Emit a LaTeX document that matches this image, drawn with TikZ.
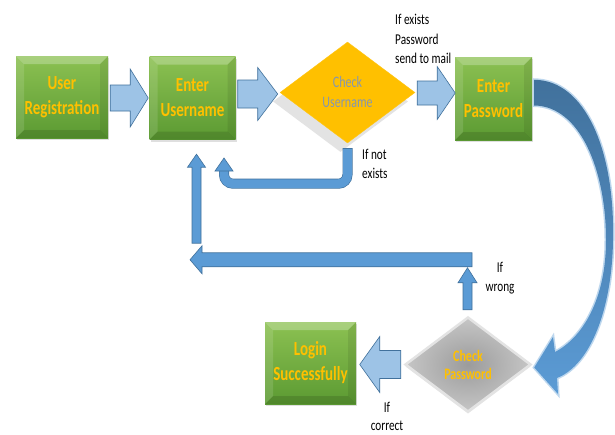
\documentclass[tikz,border=0pt]{standalone}
\usepackage{fontspec}
\setmainfont{Carlito}[FakeStretch=0.75]
\usepackage{xcolor}
\usepackage{tikz}
\usetikzlibrary{shapes.geometric, positioning, calc, shadows}
\definecolor{boxtop}{HTML}{8CC152}
\definecolor{boxbot}{HTML}{5B9A32}
\definecolor{boxtext}{HTML}{FFC000}
\definecolor{lightarrow}{HTML}{9DC3E6}
\definecolor{darkarrow}{HTML}{5B9BD5}
\definecolor{arrowline}{HTML}{41719C}
\definecolor{checkorange}{HTML}{FFC000}
\definecolor{checktext}{HTML}{8497B0}
\definecolor{glowblue}{HTML}{BDD7EE}

\begin{document}
\begin{tikzpicture}[x=1pt, y=-1pt,
	stepbox/.style={rectangle, top color=boxtop, bottom color=boxbot, text=boxtext, align=center,
		font=\fontsize{20}{25}\selectfont\bfseries, inner sep=0pt,
		drop shadow={shadow xshift=1pt, shadow yshift=-2pt, opacity=.25},
		path picture={
			\fill[white, opacity=.25] (path picture bounding box.north west) -- (path picture bounding box.north east) -- ([xshift=-8pt, yshift=-8pt]path picture bounding box.north east) -- ([xshift=8pt, yshift=-8pt]path picture bounding box.north west) -- cycle;
			\fill[white, opacity=.12] (path picture bounding box.north west) -- (path picture bounding box.south west) -- ([xshift=8pt, yshift=8pt]path picture bounding box.south west) -- ([xshift=8pt, yshift=-8pt]path picture bounding box.north west) -- cycle;
			\fill[black, opacity=.12] (path picture bounding box.south west) -- (path picture bounding box.south east) -- ([xshift=-8pt, yshift=8pt]path picture bounding box.south east) -- ([xshift=8pt, yshift=8pt]path picture bounding box.south west) -- cycle;
			\fill[black, opacity=.08] (path picture bounding box.north east) -- (path picture bounding box.south east) -- ([xshift=-8pt, yshift=8pt]path picture bounding box.south east) -- ([xshift=-8pt, yshift=-8pt]path picture bounding box.north east) -- cycle;
		}},
	checkuser/.style={diamond, aspect=1.34, minimum width=135pt, minimum height=101pt, inner sep=0pt,
		fill=checkorange, draw=checkorange!90!white, text=checktext, align=center,
		font=\fontsize{16}{20}\selectfont,
		drop shadow={shadow xshift=-7pt, shadow yshift=-9pt, opacity=.22, fill=gray}},
	checkpass/.style={diamond, aspect=1.32, minimum width=126pt, minimum height=95pt, inner sep=0pt,
		inner color=gray!78, outer color=gray!45, draw=gray!22, line width=2.5pt, text=boxtext, align=center,
		font=\fontsize{16}{18}\selectfont\bfseries,
		drop shadow={shadow xshift=0pt, shadow yshift=-2pt, opacity=.2}},
	note/.style={inner sep=0pt, font=\fontsize{15}{19.5}\selectfont},
	lightblock/.style={fill=lightarrow, draw=arrowline, line width=.6pt},
	darkblock/.style={fill=darkarrow, draw=arrowline, line width=.6pt},
	pics/fatarrow/.style n args={4}{code={
		\path[pic actions] (0,-#2) -- ({#1-#4},-#2) -- ({#1-#4},-#3) -- (#1,0) -- ({#1-#4},#3) -- ({#1-#4},#2) -- (0,#2) -- cycle;
	}}]
	\useasboundingbox[fill=white] (0,0) rectangle (615,434);

	\node[stepbox, minimum width=92pt, minimum height=82pt] (ureg) at (62,97) {User\\Registration};
	\node[stepbox, minimum width=86pt, minimum height=83pt] (uname) at (192.5,98) {Enter\\Username};
	\node[checkuser] (chkuser) at (347.5,92.5) {Check\\Username};
	\node[stepbox, minimum width=77pt, minimum height=83pt] (pword) at (493.5,98.5) {Enter\\Password};
	\node[checkpass] (chkpass) at (468,364.5) {Check\\Password};
	\node[stepbox, minimum width=91pt, minimum height=82pt] (login) at (310.5,363) {Login\\Successfully};

	\node[note, anchor=west, align=left] (lexists) at (395,39) {If exists\\Password\\send to mail};
	\node[note, anchor=west, align=left] (lnotexists) at (362,164) {If not\\exists};
	\node[note, align=center] (lwrong) at (500,278) {If\\wrong};
	\node[note, align=center, font=\fontsize{15}{18}\selectfont] (lcorrect) at (387,416) {If\\correct};

	% block arrows
	\pic[lightblock] at ($(ureg.east)+(2,1)$) {fatarrow={38}{13}{29}{18}};
	\pic[lightblock] at ($(uname.east)+(2,-4)$) {fatarrow={40}{14}{26.5}{20}};
	\pic[lightblock] at ($(chkuser.east)+(2,0.5)$) {fatarrow={38}{12}{26.5}{18}};
	\pic[lightblock, rotate=180] at ($(chkpass.west)+(-3,0)$) {fatarrow={41}{14}{28}{20}};

	% return arrows
	\pic[darkblock, rotate=90] at ($(chkpass.north)+(-0.5,-6)$) {fatarrow={42}{4.5}{9.5}{15}};
	\coordinate (wrongturn) at ($(chkpass.north)+(4,-56)$);
	\pic[darkblock, rotate=180] at (wrongturn) {fatarrow={282}{7}{14}{12}};
	\pic[darkblock, rotate=90] at ($(uname.south)+(4,103.5)$) {fatarrow={89}{4.5}{9}{13}};

	\draw[arrowline, line width=10pt, rounded corners=9pt] ($(chkuser.south)+(0,5)$) -- ++(0,35.5) -| (224,171);
	\draw[darkarrow, line width=8.8pt, rounded corners=9pt] ($(chkuser.south)+(0,5.6)$) -- ++(0,34.9) -| (224,170.4);
	\path[darkblock] (215,171) -- (224,158) -- (233,171) -- cycle;

	% curved arrow
	\path[top color=arrowline, bottom color=darkarrow, preaction={draw=glowblue, line width=3pt}]
		($(pword.north east)+(2,23)$) .. controls (585,80) and (615,150) .. (613,240)
		.. controls (612,310) and (590,365) .. (557,378) -- (558,394)
		-- ($(chkpass.east)+(2,3)$) -- (553,337) -- (555,352)
		.. controls (582,338) and (606,300) .. (606,240)
		.. controls (606,170) and (580,106) .. ($(pword.east)+(2,7)$) -- cycle;
\end{tikzpicture}
\end{document}
